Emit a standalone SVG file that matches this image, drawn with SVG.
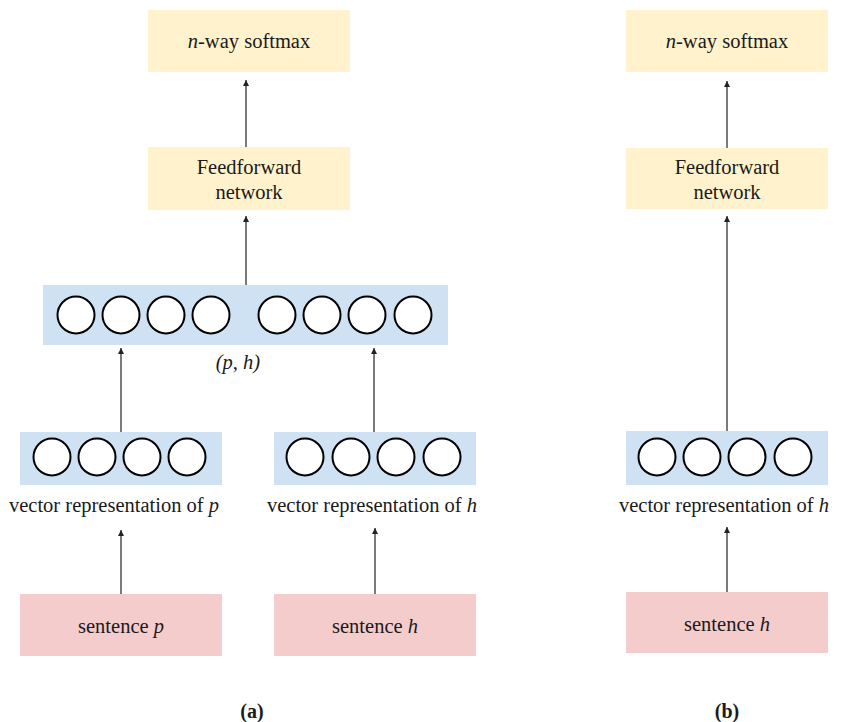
<svg xmlns="http://www.w3.org/2000/svg" width="841" height="722" viewBox="0 0 841 722">
<style>
text{font-family:"Liberation Serif","DejaVu Serif",serif;font-size:20.5px;fill:#1a1a1a;text-anchor:middle}
.y{fill:#fff2cc}.b{fill:#cfe2f3}.p{fill:#f4cccc}
.c{fill:#fff;stroke:#000;stroke-width:2}
.i{font-style:italic}
.e{stroke:#222;stroke-width:1.2;fill:none;marker-end:url(#ah)}
.cap{font-weight:bold;font-size:20px}
</style>
<defs>
<marker id="ah" markerUnits="userSpaceOnUse" markerWidth="7" markerHeight="7" refX="6" refY="3" orient="auto">
<path d="M0,0 L6,3 L0,6 z" fill="#222"/>
</marker>
</defs>
<rect width="841" height="722" fill="#fff"/>
<g id="edges">
<line class="e" x1="246" y1="147" x2="246" y2="80"/>
<line class="e" x1="246" y1="285" x2="246" y2="216"/>
<line class="e" x1="121" y1="432" x2="121" y2="348"/>
<line class="e" x1="374" y1="432" x2="374" y2="348"/>
<line class="e" x1="121" y1="594" x2="121" y2="530"/>
<line class="e" x1="375" y1="594" x2="375" y2="528"/>
<line class="e" x1="727" y1="148" x2="727" y2="81"/>
<line class="e" x1="727" y1="431" x2="727" y2="216"/>
<line class="e" x1="727" y1="592" x2="727" y2="527"/>
</g>
<g id="a-softmax"><rect class="y" x="148" y="10" width="202" height="62"/><text x="249" y="48"><tspan class="i">n</tspan>-way softmax</text></g>
<g id="a-ffn"><rect class="y" x="148" y="147" width="202" height="63"/><text x="249" y="174">Feedforward</text><text x="249" y="199">network</text></g>
<g id="a-concat"><rect class="b" x="43" y="285" width="405" height="60"/>
<circle class="c" cx="76" cy="315" r="18.5"/><circle class="c" cx="121" cy="315" r="18.5"/><circle class="c" cx="166" cy="315" r="18.5"/><circle class="c" cx="211" cy="315" r="18.5"/>
<circle class="c" cx="277" cy="315" r="18.5"/><circle class="c" cx="322" cy="315" r="18.5"/><circle class="c" cx="367" cy="315" r="18.5"/><circle class="c" cx="413" cy="315" r="18.5"/>
<text class="i" x="238" y="369" font-size="18">(p, h)</text></g>
<g id="a-vecp"><rect class="b" x="20" y="432" width="202" height="53"/>
<circle class="c" cx="52" cy="457" r="18.5"/><circle class="c" cx="97" cy="457" r="18.5"/><circle class="c" cx="142" cy="457" r="18.5"/><circle class="c" cx="187" cy="457" r="18.5"/>
<text x="114" y="512">vector representation of <tspan class="i">p</tspan></text></g>
<g id="a-vech"><rect class="b" x="274" y="432" width="202" height="53"/>
<circle class="c" cx="305" cy="457" r="18.5"/><circle class="c" cx="351" cy="457" r="18.5"/><circle class="c" cx="396" cy="457" r="18.5"/><circle class="c" cx="442" cy="457" r="18.5"/>
<text x="372" y="512">vector representation of <tspan class="i">h</tspan></text></g>
<g id="a-sentp"><rect class="p" x="20" y="594" width="202" height="62"/><text x="121" y="633">sentence <tspan class="i">p</tspan></text></g>
<g id="a-senth"><rect class="p" x="274" y="594" width="202" height="62"/><text x="375" y="633">sentence <tspan class="i">h</tspan></text></g>
<text class="cap" x="252" y="718">(a)</text>
<g id="b-softmax"><rect class="y" x="626" y="10" width="202" height="62"/><text x="727" y="48"><tspan class="i">n</tspan>-way softmax</text></g>
<g id="b-ffn"><rect class="y" x="626" y="148" width="202" height="61"/><text x="727" y="174">Feedforward</text><text x="727" y="199">network</text></g>
<g id="b-vech"><rect class="b" x="626" y="431" width="202" height="54"/>
<circle class="c" cx="657" cy="457" r="18.5"/><circle class="c" cx="702" cy="457" r="18.5"/><circle class="c" cx="747" cy="457" r="18.5"/><circle class="c" cx="793" cy="457" r="18.5"/>
<text x="724" y="512">vector representation of <tspan class="i">h</tspan></text></g>
<g id="b-senth"><rect class="p" x="626" y="592" width="202" height="61"/><text x="727" y="631">sentence <tspan class="i">h</tspan></text></g>
<text class="cap" x="727" y="718">(b)</text>
</svg>
